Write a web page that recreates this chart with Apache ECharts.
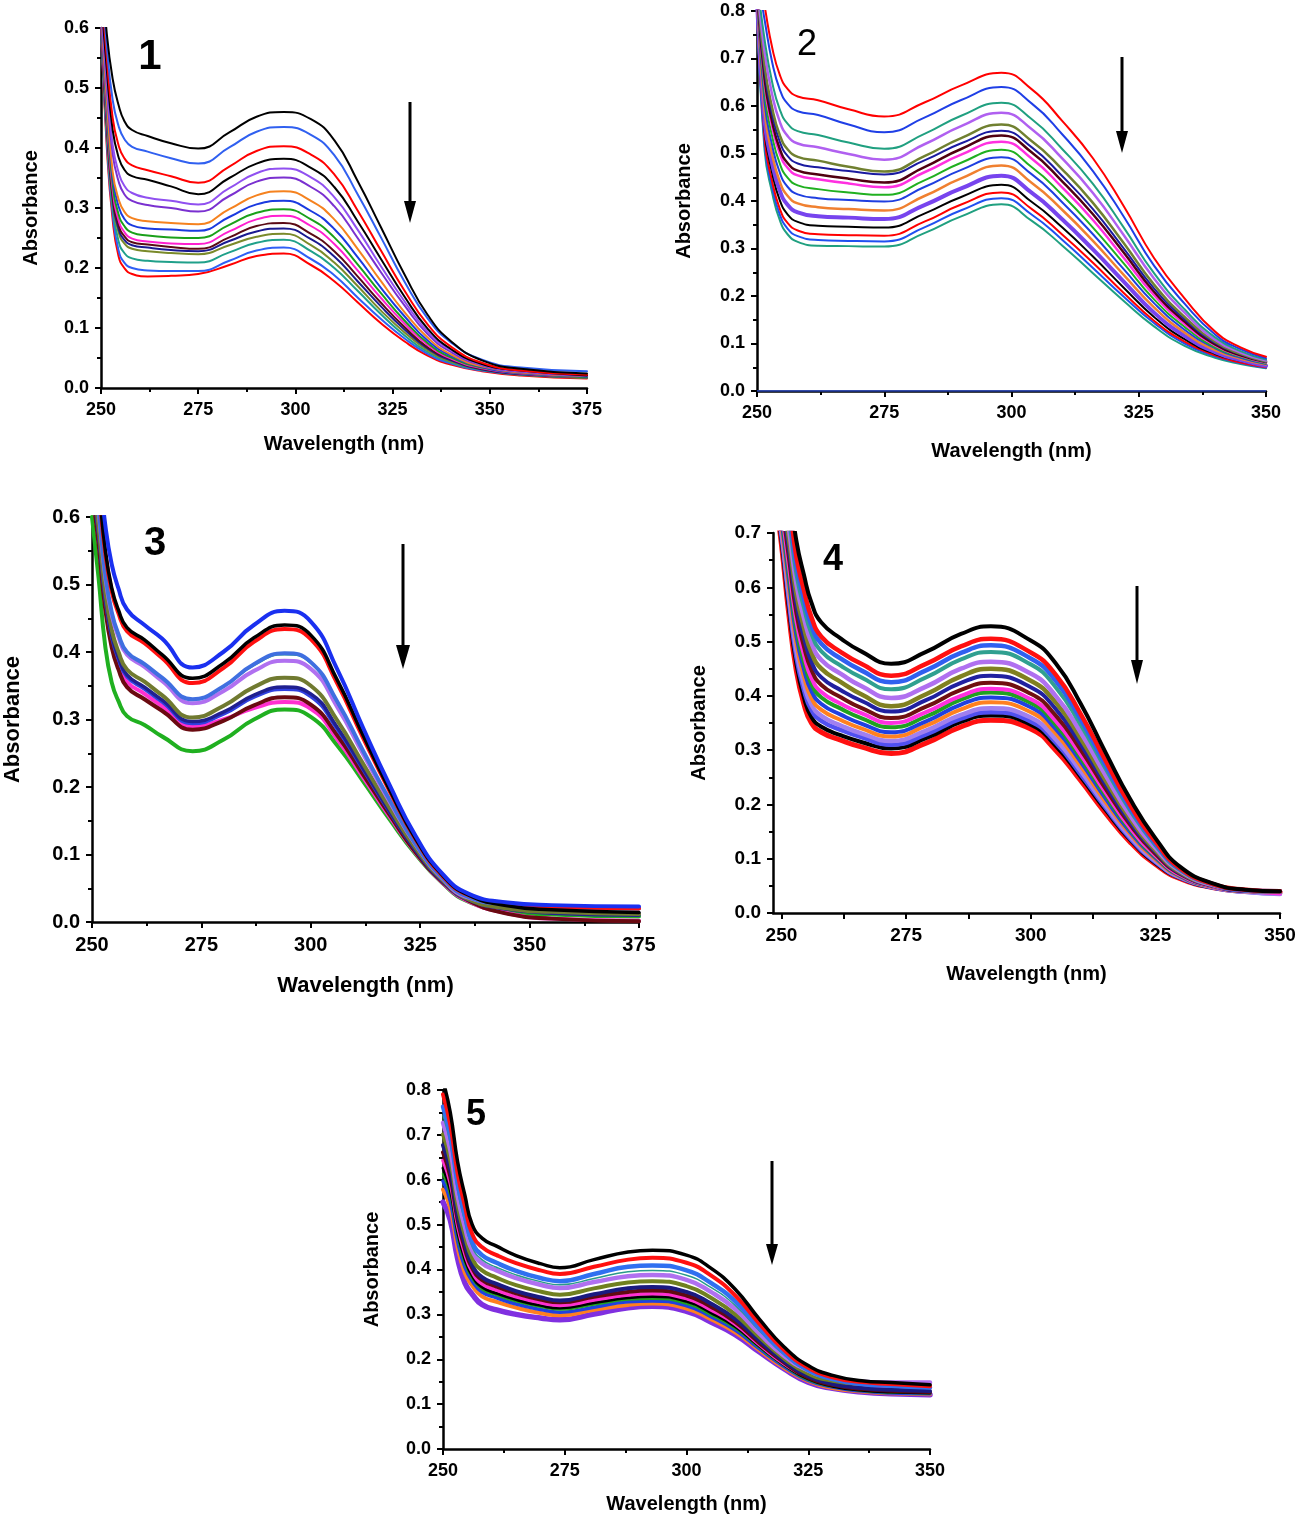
<!DOCTYPE html>
<html><head><meta charset="utf-8">
<script src="https://cdn.jsdelivr.net/npm/echarts/dist/echarts.min.js"></script>
<style>html,body{margin:0;padding:0;background:#fff}#c{width:1304px;height:1519px}</style>
</head><body><div id="c"></div>
<script>
// ---------- Panel 1 ----------
const wl1 = [250, 251.5, 253, 254.5, 256, 258, 262, 268, 275, 283, 290, 297, 304, 310, 316, 322, 328, 334, 340, 348, 358, 375];
const abs1 = [
 [0.72,0.59,0.515,0.472,0.445,0.43,0.42,0.408,0.399,0.426,0.452,0.46,0.448,0.413,0.345,0.268,0.19,0.122,0.078,0.046,0.032,0.024],
 [0.7,0.57,0.48,0.437,0.415,0.402,0.394,0.383,0.374,0.401,0.427,0.435,0.422,0.388,0.323,0.251,0.178,0.116,0.076,0.047,0.034,0.028],
 [0.68,0.55,0.45,0.405,0.383,0.371,0.363,0.353,0.342,0.369,0.395,0.403,0.389,0.356,0.296,0.229,0.163,0.106,0.069,0.042,0.029,0.022],
 [0.66,0.53,0.43,0.385,0.364,0.353,0.347,0.336,0.323,0.35,0.374,0.382,0.367,0.335,0.278,0.215,0.153,0.099,0.065,0.04,0.029,0.021],
 [0.65,0.51,0.405,0.36,0.337,0.325,0.317,0.312,0.306,0.333,0.358,0.366,0.351,0.318,0.264,0.203,0.145,0.094,0.063,0.039,0.028,0.021],
 [0.64,0.5,0.39,0.345,0.323,0.312,0.305,0.3,0.294,0.32,0.344,0.351,0.335,0.303,0.25,0.193,0.138,0.09,0.06,0.038,0.027,0.02],
 [0.63,0.48,0.36,0.315,0.294,0.283,0.278,0.275,0.273,0.298,0.321,0.328,0.312,0.281,0.232,0.178,0.127,0.084,0.056,0.036,0.026,0.02],
 [0.62,0.47,0.35,0.303,0.282,0.271,0.266,0.264,0.262,0.285,0.306,0.312,0.295,0.265,0.218,0.167,0.12,0.079,0.054,0.035,0.025,0.019],
 [0.62,0.46,0.34,0.29,0.27,0.259,0.254,0.251,0.25,0.272,0.292,0.298,0.281,0.251,0.206,0.158,0.113,0.075,0.051,0.034,0.025,0.018],
 [0.61,0.45,0.33,0.28,0.26,0.249,0.244,0.241,0.24,0.261,0.281,0.287,0.27,0.24,0.196,0.15,0.108,0.072,0.049,0.033,0.024,0.018],
 [0.61,0.44,0.32,0.272,0.253,0.243,0.239,0.235,0.232,0.251,0.27,0.275,0.257,0.228,0.186,0.142,0.102,0.068,0.048,0.032,0.024,0.018],
 [0.6,0.44,0.315,0.266,0.247,0.238,0.234,0.23,0.228,0.245,0.261,0.266,0.248,0.219,0.178,0.136,0.098,0.066,0.046,0.031,0.023,0.018],
 [0.6,0.43,0.31,0.26,0.241,0.232,0.228,0.225,0.223,0.238,0.252,0.257,0.238,0.209,0.17,0.129,0.093,0.063,0.044,0.031,0.023,0.017],
 [0.6,0.42,0.3,0.245,0.225,0.216,0.212,0.21,0.209,0.226,0.242,0.247,0.228,0.2,0.162,0.123,0.088,0.06,0.043,0.03,0.022,0.017],
 [0.6,0.41,0.29,0.23,0.209,0.2,0.196,0.195,0.195,0.212,0.229,0.234,0.215,0.188,0.151,0.115,0.083,0.057,0.041,0.029,0.023,0.019],
 [0.6,0.4,0.28,0.22,0.2,0.19,0.186,0.187,0.19,0.205,0.22,0.224,0.205,0.178,0.143,0.108,0.078,0.054,0.039,0.028,0.021,0.016]
];
const colors1 = ['#000000','#3060f0','#ff0000','#000000','#9050f0','#7a30d0','#f5821f','#1a3ae0','#1aa01a','#ff20d0','#5a0a14','#1a1a90','#7a8a2a','#20a08a','#2f5ff5','#ff0000'];
const widths1 = [2,2,2,2,2,2,2,2,2,2,2,2,2,2,2,2];

// ---------- Panel 2 ----------
const wl2 = [250, 251.5, 253, 254.5, 256, 258, 262, 268, 275, 283, 290, 298, 304, 310, 316, 322, 328, 334, 340, 345, 350];
const abs2 = [
 [0.9,0.81,0.722,0.665,0.636,0.62,0.612,0.593,0.578,0.608,0.643,0.67,0.635,0.568,0.49,0.39,0.28,0.195,0.125,0.092,0.072],
 [0.88,0.781,0.691,0.634,0.605,0.589,0.581,0.561,0.545,0.576,0.612,0.64,0.605,0.54,0.463,0.368,0.264,0.184,0.119,0.088,0.069],
 [0.87,0.739,0.649,0.592,0.563,0.547,0.539,0.523,0.51,0.542,0.579,0.607,0.572,0.509,0.436,0.345,0.248,0.172,0.113,0.084,0.066],
 [0.86,0.713,0.623,0.566,0.537,0.521,0.513,0.499,0.487,0.52,0.557,0.586,0.551,0.489,0.417,0.329,0.237,0.165,0.108,0.081,0.064],
 [0.86,0.685,0.595,0.538,0.509,0.493,0.485,0.472,0.462,0.495,0.532,0.561,0.526,0.466,0.396,0.312,0.224,0.156,0.104,0.078,0.062],
 [0.85,0.671,0.581,0.524,0.495,0.479,0.471,0.463,0.456,0.486,0.521,0.548,0.513,0.452,0.383,0.301,0.216,0.151,0.101,0.077,0.061],
 [0.85,0.656,0.566,0.509,0.48,0.464,0.456,0.447,0.439,0.472,0.509,0.538,0.502,0.441,0.372,0.292,0.209,0.146,0.098,0.075,0.061],
 [0.85,0.646,0.556,0.499,0.47,0.454,0.446,0.437,0.429,0.461,0.497,0.525,0.489,0.428,0.36,0.281,0.202,0.141,0.096,0.074,0.06],
 [0.84,0.625,0.535,0.478,0.449,0.433,0.425,0.418,0.413,0.444,0.48,0.508,0.471,0.412,0.344,0.269,0.193,0.135,0.092,0.072,0.058],
 [0.84,0.606,0.516,0.459,0.43,0.414,0.406,0.402,0.399,0.43,0.465,0.492,0.456,0.397,0.33,0.257,0.185,0.129,0.09,0.07,0.057],
 [0.84,0.587,0.497,0.44,0.411,0.395,0.387,0.383,0.38,0.411,0.447,0.475,0.438,0.381,0.316,0.245,0.176,0.123,0.086,0.068,0.056],
 [0.83,0.568,0.478,0.421,0.392,0.376,0.368,0.365,0.362,0.392,0.426,0.453,0.417,0.361,0.298,0.231,0.165,0.116,0.082,0.065,0.053],
 [0.83,0.548,0.458,0.401,0.372,0.356,0.348,0.346,0.344,0.374,0.408,0.434,0.398,0.344,0.283,0.218,0.156,0.109,0.078,0.063,0.052],
 [0.83,0.53,0.44,0.383,0.354,0.338,0.33,0.328,0.327,0.357,0.392,0.418,0.383,0.329,0.27,0.207,0.148,0.104,0.075,0.06,0.05],
 [0.82,0.518,0.428,0.371,0.342,0.326,0.318,0.316,0.315,0.345,0.38,0.406,0.371,0.318,0.259,0.199,0.143,0.1,0.073,0.059,0.049],
 [0.82,0.506,0.416,0.359,0.33,0.314,0.306,0.305,0.304,0.333,0.367,0.393,0.358,0.306,0.248,0.19,0.136,0.095,0.07,0.057,0.048]
];
const colors2 = ['#ff0000','#1f3fe6','#20a080','#b060f0','#708030','#1a1aa0','#500010','#ff30e0','#20b020','#1f3fe0','#f08030','#7744ee','#000000','#ff0000','#2050f0','#20a080'];
const widths2 = [2,2,2,2.5,2.5,2,2.5,2.5,2,2,2.5,4,2,2,2,2];
const baseline2 = [0, 0];
const baselineWl2 = [250, 350];

// ---------- Panel 3 ----------
const wl3 = [250, 251.5, 253, 254.5, 256, 258, 262, 266, 273, 280, 287, 294, 300, 306, 312, 318, 324, 330, 336, 345, 355, 375];
const abs3 = [
 [0.75,0.68,0.59,0.53,0.495,0.463,0.44,0.42,0.377,0.4,0.44,0.461,0.445,0.375,0.287,0.203,0.127,0.072,0.042,0.029,0.025,0.023],
 [0.728,0.648,0.553,0.495,0.463,0.436,0.418,0.396,0.361,0.383,0.421,0.44,0.425,0.359,0.276,0.196,0.123,0.07,0.04,0.024,0.018,0.014],
 [0.723,0.643,0.548,0.49,0.458,0.431,0.413,0.391,0.354,0.376,0.415,0.434,0.419,0.354,0.272,0.194,0.122,0.069,0.04,0.027,0.023,0.02],
 [0.692,0.612,0.517,0.459,0.427,0.4,0.382,0.362,0.33,0.349,0.382,0.398,0.385,0.327,0.253,0.181,0.115,0.066,0.037,0.026,0.022,0.02],
 [0.691,0.611,0.516,0.458,0.426,0.399,0.381,0.361,0.329,0.348,0.38,0.396,0.383,0.325,0.252,0.18,0.115,0.066,0.037,0.025,0.021,0.019],
 [0.688,0.608,0.513,0.455,0.423,0.396,0.378,0.357,0.324,0.342,0.372,0.387,0.375,0.319,0.248,0.178,0.114,0.065,0.036,0.027,0.023,0.021],
 [0.666,0.586,0.491,0.433,0.401,0.374,0.356,0.336,0.303,0.32,0.348,0.362,0.35,0.299,0.234,0.169,0.109,0.063,0.034,0.02,0.015,0.012],
 [0.658,0.578,0.483,0.425,0.393,0.366,0.348,0.329,0.297,0.311,0.336,0.348,0.338,0.289,0.227,0.164,0.106,0.061,0.033,0.019,0.013,0.01],
 [0.655,0.575,0.48,0.422,0.39,0.363,0.345,0.326,0.294,0.308,0.333,0.345,0.334,0.286,0.225,0.163,0.106,0.061,0.033,0.02,0.015,0.013],
 [0.64,0.56,0.465,0.407,0.375,0.348,0.33,0.313,0.285,0.298,0.321,0.333,0.322,0.277,0.218,0.159,0.103,0.06,0.032,0.012,0.005,0.001],
 [0.648,0.568,0.473,0.415,0.383,0.356,0.338,0.32,0.29,0.3,0.317,0.326,0.316,0.271,0.214,0.156,0.102,0.059,0.031,0.013,0.005,0.002],
 [0.6,0.51,0.41,0.355,0.328,0.305,0.292,0.275,0.253,0.27,0.3,0.315,0.304,0.262,0.208,0.152,0.1,0.058,0.03,0.016,0.011,0.008]
];
const colors3 = ['#1a30f0','#000000','#ff1010','#3f6fe0','#2a9a8a','#b070f0','#707a30','#202090','#3040e0','#6a0a10','#ff30d0','#20b020'];
const widths3 = [4,3.5,4,4,1.5,4,4,3.5,3.5,4,4,4];

// ---------- Panel 4 ----------
const wl4 = [248.3, 250, 251.5, 253, 254.5, 256, 258, 262, 266, 272, 279, 286, 292, 300, 305, 310, 315, 320, 325, 330, 337, 343, 350];
const abs4 = [
 [0.905,0.855,0.785,0.685,0.623,0.572,0.535,0.505,0.482,0.459,0.481,0.514,0.528,0.502,0.46,0.386,0.296,0.209,0.138,0.085,0.053,0.043,0.04],
 [0.885,0.831,0.757,0.656,0.595,0.545,0.509,0.48,0.459,0.437,0.459,0.491,0.505,0.48,0.439,0.367,0.281,0.198,0.132,0.082,0.052,0.043,0.04],
 [0.879,0.819,0.741,0.641,0.579,0.53,0.496,0.468,0.447,0.425,0.447,0.479,0.493,0.469,0.428,0.357,0.273,0.193,0.128,0.081,0.052,0.042,0.04],
 [0.871,0.807,0.725,0.624,0.563,0.515,0.482,0.455,0.434,0.412,0.434,0.467,0.481,0.458,0.416,0.347,0.266,0.188,0.125,0.079,0.051,0.042,0.039],
 [0.861,0.793,0.707,0.606,0.544,0.498,0.466,0.44,0.418,0.396,0.417,0.45,0.463,0.441,0.4,0.333,0.254,0.179,0.12,0.077,0.05,0.042,0.039],
 [0.852,0.778,0.688,0.587,0.526,0.48,0.45,0.425,0.403,0.381,0.403,0.436,0.45,0.428,0.388,0.322,0.245,0.173,0.116,0.075,0.05,0.042,0.039],
 [0.842,0.764,0.67,0.569,0.508,0.463,0.434,0.41,0.391,0.371,0.392,0.424,0.437,0.416,0.376,0.311,0.237,0.167,0.113,0.073,0.049,0.041,0.039],
 [0.834,0.752,0.654,0.552,0.491,0.448,0.42,0.397,0.378,0.359,0.38,0.411,0.424,0.404,0.364,0.301,0.229,0.162,0.109,0.072,0.049,0.041,0.039],
 [0.828,0.74,0.638,0.537,0.476,0.433,0.407,0.385,0.368,0.35,0.37,0.4,0.413,0.394,0.354,0.292,0.222,0.156,0.106,0.07,0.048,0.041,0.036],
 [0.824,0.732,0.626,0.524,0.463,0.422,0.397,0.376,0.359,0.342,0.362,0.393,0.406,0.387,0.347,0.286,0.217,0.153,0.104,0.069,0.048,0.041,0.038],
 [0.818,0.722,0.612,0.51,0.449,0.409,0.385,0.365,0.349,0.333,0.353,0.384,0.397,0.379,0.339,0.279,0.211,0.149,0.102,0.068,0.048,0.041,0.038],
 [0.814,0.712,0.598,0.496,0.436,0.396,0.374,0.355,0.34,0.325,0.345,0.375,0.388,0.37,0.331,0.271,0.205,0.145,0.099,0.067,0.047,0.04,0.038],
 [0.809,0.703,0.585,0.483,0.422,0.384,0.363,0.345,0.331,0.317,0.336,0.365,0.377,0.36,0.32,0.262,0.198,0.14,0.096,0.066,0.047,0.039,0.035],
 [0.806,0.696,0.574,0.471,0.411,0.374,0.354,0.337,0.324,0.31,0.329,0.358,0.37,0.353,0.314,0.256,0.194,0.137,0.094,0.065,0.046,0.039,0.036],
 [0.802,0.686,0.56,0.458,0.397,0.361,0.343,0.327,0.315,0.303,0.322,0.352,0.364,0.347,0.308,0.251,0.19,0.134,0.092,0.064,0.046,0.04,0.038],
 [0.798,0.678,0.548,0.445,0.385,0.35,0.333,0.318,0.306,0.294,0.313,0.343,0.355,0.339,0.3,0.244,0.184,0.13,0.09,0.063,0.046,0.04,0.038]
];
const colors4 = ['#000000','#ff1010','#3060f0','#30a090','#b070f0','#808020','#2020a0','#701010','#ff30e0','#20a020','#2040e0','#ff8020','#a080f0','#5050f0','#000000','#ff1010'];
const widths4 = [4,4.5,4.5,4,4.5,4.5,4,4,4,4,4,4,4.5,4.5,4,5];
const ticks4 = [250, 262.5, 275, 287.5, 300, 312.5, 325, 337.5, 350];
const labels4 = [250, 275, 300, 325, 350];

// ---------- Panel 5 ----------
const wl5 = [250, 251.5, 253, 254.5, 256, 258, 261, 265, 270, 274, 281, 288, 293, 300, 305, 310, 315, 320, 325, 330, 336, 342, 350];
const abs5 = [
 [0.82,0.75,0.64,0.565,0.5,0.47,0.452,0.431,0.413,0.404,0.422,0.439,0.443,0.432,0.403,0.356,0.289,0.228,0.186,0.164,0.152,0.148,0.143],
 [0.79,0.722,0.614,0.541,0.479,0.45,0.432,0.414,0.398,0.39,0.406,0.422,0.426,0.415,0.387,0.342,0.279,0.221,0.181,0.16,0.149,0.145,0.14],
 [0.763,0.698,0.592,0.52,0.461,0.432,0.415,0.397,0.381,0.374,0.39,0.406,0.409,0.398,0.37,0.329,0.269,0.215,0.176,0.156,0.145,0.141,0.137],
 [0.743,0.68,0.576,0.506,0.45,0.422,0.405,0.388,0.373,0.366,0.38,0.395,0.398,0.387,0.36,0.32,0.263,0.21,0.173,0.154,0.143,0.139,0.135],
 [0.727,0.666,0.564,0.495,0.442,0.414,0.398,0.381,0.366,0.359,0.372,0.385,0.388,0.377,0.35,0.312,0.257,0.208,0.175,0.158,0.15,0.148,0.148],
 [0.701,0.642,0.542,0.475,0.425,0.398,0.382,0.365,0.351,0.344,0.358,0.371,0.374,0.363,0.337,0.3,0.249,0.202,0.168,0.152,0.145,0.143,0.142],
 [0.677,0.621,0.522,0.457,0.41,0.383,0.368,0.352,0.338,0.331,0.345,0.358,0.361,0.35,0.324,0.29,0.241,0.196,0.162,0.145,0.136,0.132,0.129],
 [0.661,0.607,0.511,0.446,0.403,0.377,0.362,0.347,0.333,0.327,0.339,0.35,0.353,0.342,0.317,0.283,0.236,0.193,0.159,0.143,0.134,0.13,0.127],
 [0.643,0.592,0.497,0.434,0.394,0.368,0.354,0.339,0.326,0.32,0.332,0.343,0.346,0.335,0.31,0.278,0.232,0.19,0.16,0.146,0.14,0.138,0.137],
 [0.626,0.577,0.484,0.423,0.386,0.361,0.347,0.333,0.32,0.314,0.326,0.337,0.34,0.329,0.304,0.273,0.229,0.188,0.156,0.14,0.131,0.127,0.125],
 [0.613,0.566,0.475,0.415,0.381,0.356,0.343,0.329,0.317,0.311,0.322,0.333,0.335,0.324,0.299,0.269,0.226,0.186,0.154,0.139,0.13,0.126,0.124],
 [0.597,0.552,0.463,0.405,0.374,0.35,0.337,0.323,0.311,0.305,0.316,0.328,0.33,0.319,0.295,0.265,0.223,0.184,0.153,0.138,0.129,0.125,0.123],
 [0.578,0.536,0.449,0.392,0.364,0.34,0.328,0.315,0.303,0.298,0.31,0.321,0.324,0.313,0.289,0.26,0.22,0.181,0.151,0.136,0.128,0.124,0.122],
 [0.55,0.51,0.425,0.37,0.345,0.322,0.31,0.3,0.292,0.288,0.301,0.315,0.318,0.307,0.283,0.255,0.216,0.179,0.149,0.135,0.127,0.123,0.121]
];
const colors5 = ['#000000','#ff1010','#3070f0','#2a9a8a','#b070f0','#708020','#1a1a80','#600a10','#ff30d0','#000000','#20a020','#2040e0','#ff7f20','#8030e0'];
const widths5 = [3.5,4,4.5,1.5,4.5,4,4,4,3.5,3,2.5,3.5,4,5.5];

const yTicks = ['0.0','0.1','0.2','0.3','0.4','0.5','0.6','0.7','0.8'];
const xTitle = 'Wavelength (nm)';
const yTitle = 'Absorbance';
const panelTags = ['1','2','3','4','5'];

// ---------- build ----------
const FONT = "'Liberation Sans', Arial, sans-serif";
const chart = echarts.init(document.getElementById('c'), null, {renderer: 'canvas'});

const grids = [
  {left: 101, top: 28, width: 486, height: 360},
  {left: 757, top: 11, width: 509, height: 380},
  {left: 92, top: 517, width: 547, height: 405},
  {left: 773, top: 533, width: 507, height: 380},
  {left: 443, top: 1090, width: 487, height: 359}
];

function axisBase() {
  return {
    axisLine: {show: true, onZero: false, lineStyle: {color: '#000', width: 2.5}},
    axisTick: {show: true, inside: false, length: 6, lineStyle: {color: '#000', width: 2}},
    minorTick: {show: true, splitNumber: 2, length: 4, lineStyle: {color: '#000', width: 2}},
    splitLine: {show: false},
    minorSplitLine: {show: false},
    nameLocation: 'middle',
    nameTextStyle: {color: '#000', fontWeight: 'bold', fontFamily: FONT, fontSize: 20}
  };
}

function xAx(gi, min, max, gap, fs, nfs) {
  const a = axisBase();
  return Object.assign(a, {
    type: 'value', gridIndex: gi, min: min, max: max, interval: 25,
    name: xTitle, nameGap: gap,
    nameTextStyle: Object.assign(a.nameTextStyle, {fontSize: nfs}),
    axisLabel: {color: '#000', fontWeight: 'bold', fontFamily: FONT, fontSize: fs, margin: 13,
      formatter: v => String(Math.round(v))}
  });
}

function yAx(gi, max, gap, fs, nfs) {
  const a = axisBase();
  return Object.assign(a, {
    type: 'value', gridIndex: gi, min: 0, max: max, interval: 0.1,
    name: yTitle, nameGap: gap, nameRotate: 90,
    nameTextStyle: Object.assign(a.nameTextStyle, {fontSize: nfs}),
    axisLabel: {color: '#000', fontWeight: 'bold', fontFamily: FONT, fontSize: fs, margin: 12,
      formatter: v => yTicks[Math.round(v * 10)]}
  });
}

const xAxes = [
  xAx(0, 250, 375, 46, 18, 20),
  xAx(1, 250, 350, 50, 18, 20),
  xAx(2, 250, 375, 53, 20, 22),
  xAx(3, 248.3, 350, 51, 19, 20),
  xAx(4, 250, 350, 45, 18, 20)
];
// panel 4 x-axis starts slightly before 250: custom tick positions
delete xAxes[3].interval;
xAxes[3].minorTick = {show: false};
xAxes[3].axisTick = Object.assign({}, xAxes[3].axisTick, {customValues: ticks4});
xAxes[3].axisLabel = Object.assign({}, xAxes[3].axisLabel, {customValues: labels4});

const yAxes = [
  yAx(0, 0.6, 60, 18, 20),
  yAx(1, 0.8, 63, 18, 20),
  yAx(2, 0.6, 68, 20, 22),
  yAx(3, 0.7, 64, 19, 20),
  yAx(4, 0.8, 61, 18, 20)
];

function buildSeries(gi, wl, rows, colors, widths) {
  const out = [];
  for (let i = rows.length - 1; i >= 0; i--) {
    out.push({
      type: 'line', xAxisIndex: gi, yAxisIndex: gi,
      data: rows[i].map((v, j) => [wl[j], v]),
      smooth: 0.5, showSymbol: false, symbol: 'none',
      clip: true, silent: true,
      lineStyle: {color: colors[i], width: widths[i], join: 'round', cap: 'round'},
      z: 3
    });
  }
  return out;
}

let series = [];
series = series.concat(buildSeries(0, wl1, abs1, colors1, widths1));
series.push({type: 'line', xAxisIndex: 1, yAxisIndex: 1, data: baselineWl2.map((x, j) => [x, baseline2[j]]),
  showSymbol: false, symbol: 'none', silent: true, lineStyle: {color: '#3050d0', width: 1.5}, z: 4});
series = series.concat(buildSeries(1, wl2, abs2, colors2, widths2));
series = series.concat(buildSeries(2, wl3, abs3, colors3, widths3));
series = series.concat(buildSeries(3, wl4, abs4, colors4, widths4));
series = series.concat(buildSeries(4, wl5, abs5, colors5, widths5));

function tag(i, x, y, size, bold) {
  return {type: 'text', z: 10, style: {text: panelTags[i], x: x, y: y,
    font: (bold ? 'bold ' : '') + size + 'px ' + FONT, fill: '#000',
    textAlign: 'center', textVerticalAlign: 'middle', align: 'center', verticalAlign: 'middle'}};
}
function arrow(x, y1, yHead, yTip, hw) {
  return [
    {type: 'line', z: 10, shape: {x1: x, y1: y1, x2: x, y2: yHead + 2}, style: {stroke: '#000', lineWidth: 3}},
    {type: 'polygon', z: 10, shape: {points: [[x - hw, yHead], [x + hw, yHead], [x, yTip]]}, style: {fill: '#000'}}
  ];
}

const graphic = [
  tag(0, 150, 57, 42, true),
  tag(1, 807, 45, 36, false),
  tag(2, 155, 544, 40, true),
  tag(3, 833, 560, 36, true),
  tag(4, 476, 1115, 36, true)
].concat(arrow(410, 102, 201, 223, 6))
 .concat(arrow(1122, 57, 131, 153, 6))
 .concat(arrow(403, 544, 645, 669, 7))
 .concat(arrow(1137, 586, 660, 684, 6))
 .concat(arrow(772, 1161, 1244, 1265, 6));

chart.setOption({
  animation: false,
  backgroundColor: '#ffffff',
  textStyle: {fontFamily: FONT},
  grid: grids,
  xAxis: xAxes,
  yAxis: yAxes,
  series: series,
  graphic: graphic
});
</script>
</body></html>
